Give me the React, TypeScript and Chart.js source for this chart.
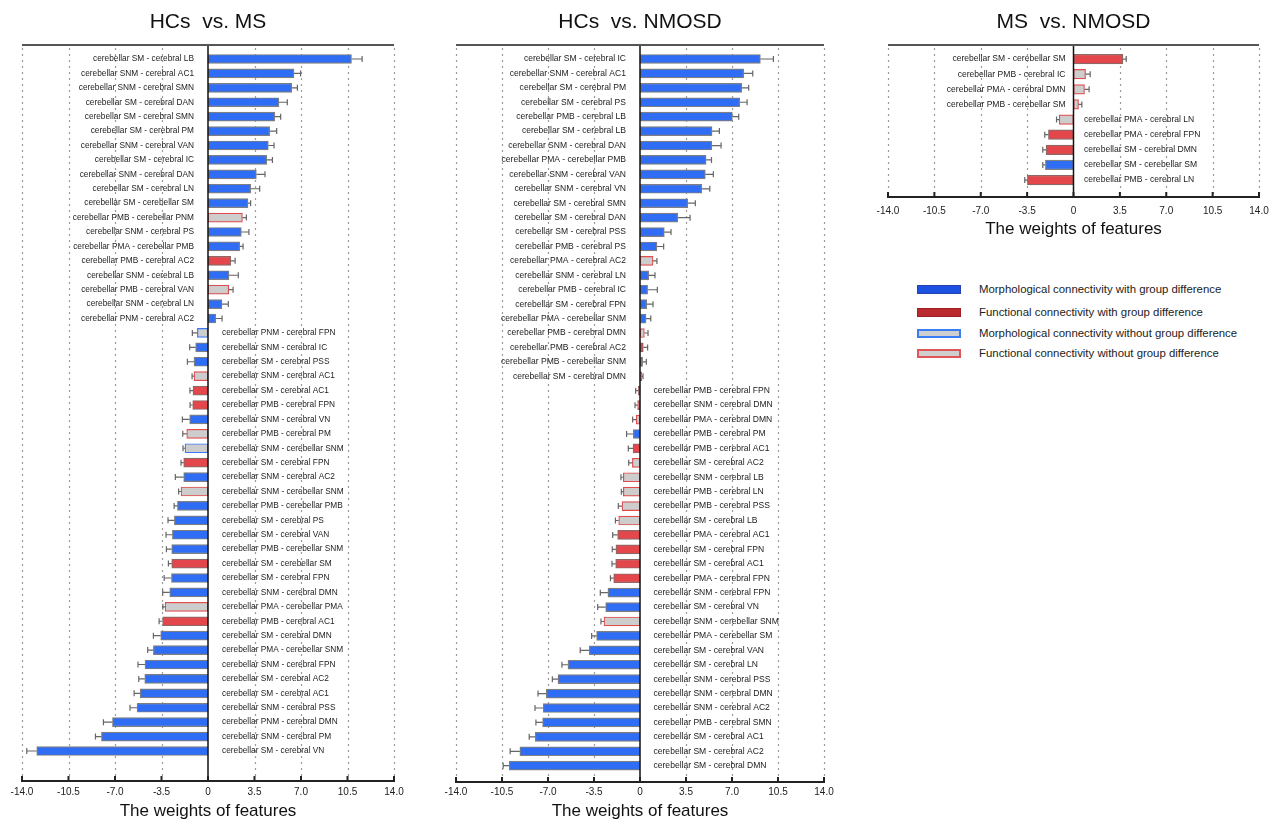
import React, { useEffect, useRef } from 'react';
import { Chart, registerables } from 'chart.js';
Chart.register(...registerables);

const FONT = '"Liberation Sans", Arial, Helvetica, sans-serif';

// ---------- Panel 1: HCs vs. MS ----------
const p1Labels = [
  'cerebellar SM - cerebral LB',
  'cerebellar SNM - cerebral AC1',
  'cerebellar SNM - cerebral SMN',
  'cerebellar SM - cerebral DAN',
  'cerebellar SM - cerebral SMN',
  'cerebellar SM - cerebral PM',
  'cerebellar SNM - cerebral VAN',
  'cerebellar SM - cerebral IC',
  'cerebellar SNM - cerebral DAN',
  'cerebellar SM - cerebral LN',
  'cerebellar SM - cerebellar SM',
  'cerebellar PMB - cerebellar PNM',
  'cerebellar SNM - cerebral PS',
  'cerebellar PMA - cerebellar PMB',
  'cerebellar PMB - cerebral AC2',
  'cerebellar SNM - cerebral LB',
  'cerebellar PMB - cerebral VAN',
  'cerebellar SNM - cerebral LN',
  'cerebellar PNM - cerebral AC2',
  'cerebellar PNM - cerebral FPN',
  'cerebellar SNM - cerebral IC',
  'cerebellar SM - cerebral PSS',
  'cerebellar SNM - cerebral AC1',
  'cerebellar SM - cerebral AC1',
  'cerebellar PMB - cerebral FPN',
  'cerebellar SNM - cerebral VN',
  'cerebellar PMB - cerebral PM',
  'cerebellar SNM - cerebellar SNM',
  'cerebellar SM - cerebral FPN',
  'cerebellar SNM - cerebral AC2',
  'cerebellar SNM - cerebellar SNM',
  'cerebellar PMB - cerebellar PMB',
  'cerebellar SM - cerebral PS',
  'cerebellar SM - cerebral VAN',
  'cerebellar PMB - cerebellar SNM',
  'cerebellar SM - cerebellar SM',
  'cerebellar SM - cerebral FPN',
  'cerebellar SNM - cerebral DMN',
  'cerebellar PMA - cerebellar PMA',
  'cerebellar PMB - cerebral AC1',
  'cerebellar SM - cerebral DMN',
  'cerebellar PMA - cerebellar SNM',
  'cerebellar SNM - cerebral FPN',
  'cerebellar SM - cerebral AC2',
  'cerebellar SM - cerebral AC1',
  'cerebellar SNM - cerebral PSS',
  'cerebellar PNM - cerebral DMN',
  'cerebellar SNM - cerebral PM',
  'cerebellar SM - cerebral VN',
];
const p1Values = [
  10.8, 6.47, 6.3, 5.34, 5.02, 4.64, 4.54, 4.42, 3.64, 3.21, 3.01, 2.59, 2.51, 2.39, 1.71, 1.58, 1.56, 1.05, 0.58,
  -0.8, -0.93, -1.05, -1.05, -1.13, -1.15, -1.38, -1.6, -1.73, -1.83, -1.83, -2.03, -2.3, -2.53, -2.68, -2.73,
  -2.73, -2.75, -2.88, -3.23, -3.41, -3.56, -4.11, -4.74, -4.76, -5.11, -5.34, -7.19, -8.02, -12.89,
];
const p1Errors = [
  0.8, 0.5, 0.43, 0.63, 0.45, 0.53, 0.43, 0.43, 0.65, 0.68, 0.2, 0.3, 0.57, 0.25, 0.33, 0.7, 0.33, 0.48, 0.48,
  0.38, 0.45, 0.5, 0.15, 0.23, 0.2, 0.55, 0.3, 0.15, 0.2, 0.63, 0.18, 0.25, 0.48, 0.48, 0.4, 0.25, 0.55, 0.53,
  0.17, 0.27, 0.55, 0.43, 0.53, 0.45, 0.45, 0.53, 0.68, 0.45, 0.75,
];
// MD: morphological with diff, FD: functional with diff, MN: morphological without, FN: functional without
const p1Types = [
  'MD', 'MD', 'MD', 'MD', 'MD', 'MD', 'MD', 'MD', 'MD', 'MD', 'MD', 'FN', 'MD', 'MD', 'FD', 'MD', 'FN', 'MD', 'MD',
  'MN', 'MD', 'MD', 'FN', 'FD', 'FD', 'MD', 'FN', 'MN', 'FD', 'MD', 'FN', 'MD', 'MD', 'MD', 'MD', 'FD', 'MD', 'MD',
  'FN', 'FD', 'MD', 'MD', 'MD', 'MD', 'MD', 'MD', 'MD', 'MD', 'MD',
];

// ---------- Panel 2: HCs vs. NMOSD ----------
const p2Labels = [
  'cerebellar SM - cerebral IC',
  'cerebellar SNM - cerebral AC1',
  'cerebellar SM - cerebral PM',
  'cerebellar SM - cerebral PS',
  'cerebellar PMB - cerebral LB',
  'cerebellar SM - cerebral LB',
  'cerebellar SNM - cerebral DAN',
  'cerebellar PMA - cerebellar PMB',
  'cerebellar SNM - cerebral VAN',
  'cerebellar SNM - cerebral VN',
  'cerebellar SM - cerebral SMN',
  'cerebellar SM - cerebral DAN',
  'cerebellar SM - cerebral PSS',
  'cerebellar PMB - cerebral PS',
  'cerebellar PMA - cerebral AC2',
  'cerebellar SNM - cerebral LN',
  'cerebellar PMB - cerebral IC',
  'cerebellar SM - cerebral FPN',
  'cerebellar PMA - cerebellar SNM',
  'cerebellar PMB - cerebral DMN',
  'cerebellar PMB - cerebral AC2',
  'cerebellar PMB - cerebellar SNM',
  'cerebellar SM - cerebral DMN',
  'cerebellar PMB - cerebral FPN',
  'cerebellar SNM - cerebral DMN',
  'cerebellar PMA - cerebral DMN',
  'cerebellar PMB - cerebral PM',
  'cerebellar PMB - cerebral AC1',
  'cerebellar SM - cerebral AC2',
  'cerebellar SNM - cerebral LB',
  'cerebellar PMB - cerebral LN',
  'cerebellar PMB - cerebral PSS',
  'cerebellar SM - cerebral LB',
  'cerebellar PMA - cerebral AC1',
  'cerebellar SM - cerebral FPN',
  'cerebellar SM - cerebral AC1',
  'cerebellar PMA - cerebral FPN',
  'cerebellar SNM - cerebral FPN',
  'cerebellar SM - cerebral VN',
  'cerebellar SNM - cerebellar SNM',
  'cerebellar PMA - cerebellar SM',
  'cerebellar SM - cerebral VAN',
  'cerebellar SM - cerebral LN',
  'cerebellar SNM - cerebral PSS',
  'cerebellar SNM - cerebral DMN',
  'cerebellar SNM - cerebral AC2',
  'cerebellar PMB - cerebral SMN',
  'cerebellar SM - cerebral AC1',
  'cerebellar SM - cerebral AC2',
  'cerebellar SM - cerebral DMN',
];
const p2Values = [
  9.16, 7.89, 7.74, 7.59, 7.03, 5.48, 5.46, 5.03, 4.97, 4.7, 3.63, 2.87, 1.85, 1.29, 0.99, 0.66, 0.58, 0.51, 0.46,
  0.33, 0.25, 0.2, 0.13,
  -0.13, -0.18, -0.28, -0.51, -0.53, -0.58, -1.27, -1.27, -1.37, -1.62, -1.7, -1.83, -1.85, -2.0, -2.44, -2.61,
  -2.74, -3.3, -3.86, -5.48, -6.24, -7.13, -7.36, -7.41, -7.97, -9.14, -9.95,
];
const p2Errors = [
  0.99, 0.69, 0.53, 0.56, 0.48, 0.56, 0.71, 0.41, 0.61, 0.61, 0.58, 0.94, 0.51, 0.51, 0.3, 0.48, 0.74, 0.48, 0.36,
  0.28, 0.33, 0.28, 0.1,
  0.2, 0.2, 0.28, 0.51, 0.36, 0.28, 0.18, 0.15, 0.28, 0.25, 0.38, 0.28, 0.28, 0.25, 0.58, 0.61, 0.23, 0.38, 0.69,
  0.46, 0.43, 0.63, 0.63, 0.51, 0.46, 0.74, 0.46,
];
const p2Types = [
  'MD', 'MD', 'MD', 'MD', 'MD', 'MD', 'MD', 'MD', 'MD', 'MD', 'MD', 'MD', 'MD', 'MD', 'FN', 'MD', 'MD', 'MD', 'MD',
  'FN', 'FD', 'MD', 'FD',
  'FD', 'FD', 'FN', 'MD', 'FD', 'FN', 'FN', 'FN', 'FN', 'FN', 'FD', 'FD', 'FD', 'FD', 'MD', 'MD', 'FN', 'MD', 'MD',
  'MD', 'MD', 'MD', 'MD', 'MD', 'MD', 'MD', 'MD',
];

// ---------- Panel 3: MS vs. NMOSD ----------
const p3Labels = [
  'cerebellar SM - cerebellar SM',
  'cerebellar PMB - cerebral IC',
  'cerebellar PMA - cerebral DMN',
  'cerebellar PMB - cerebellar SM',
  'cerebellar PMA - cerebral LN',
  'cerebellar PMA - cerebral FPN',
  'cerebellar SM - cerebral DMN',
  'cerebellar SM - cerebellar SM',
  'cerebellar PMB - cerebral LN',
];
const p3Values = [3.73, 0.91, 0.83, 0.38, -1.08, -1.89, -2.07, -2.12, -3.48];
const p3Errors = [0.25, 0.35, 0.35, 0.25, 0.2, 0.28, 0.25, 0.2, 0.2];
const p3Types = ['FD', 'FN', 'FN', 'FN', 'FN', 'FD', 'FD', 'MD', 'FD'];

const legendLabels = [
  'Morphological connectivity with group difference',
  'Functional connectivity with group difference',
  'Morphological connectivity without group difference',
  'Functional connectivity without group difference',
];
const xTickStep = 3.5;
const xMin = -14;
const xMax = 14;
const axisTitle = 'The weights of features';

const FILL: Record<string, string> = { MD: '#2f6df5', FD: '#e4474b', MN: '#cdcdcd', FN: '#cdcdcd' };
const STROKE: Record<string, string> = { MD: '#7f7f7f', FD: '#8c6868', MN: '#3a7af5', FN: '#e14d4f' };

type PanelProps = {
  title: string;
  labels: string[];
  values: number[];
  errors: number[];
  types: string[];
  left: number;
  width: number;
  height: number;
  padL: number;
  padR: number;
  axisHeight: number;
  yMin: number;
  yMax: number;
  tickPad: number;
  labelFont: number;
  gapPos: number;
  gapNeg: number;
  barThickness: number;
};

function Panel(p: PanelProps) {
  const ref = useRef<HTMLCanvasElement>(null);
  useEffect(() => {
    const canvas = ref.current!;
    const overlay = {
      id: 'overlay',
      beforeDatasetsDraw(chart: any) {
        const { ctx, chartArea } = chart;
        const xs = chart.scales.x;
        ctx.save();
        ctx.strokeStyle = '#9a9a9a';
        ctx.lineWidth = 1.2;
        ctx.setLineDash([2, 4]);
        for (let v = xMin; v <= xMax + 1e-9; v += xTickStep) {
          if (Math.abs(v) < 1e-9) continue;
          const x = Math.round(xs.getPixelForValue(v)) + 0.5;
          ctx.beginPath();
          ctx.moveTo(x, chartArea.top + 3);
          ctx.lineTo(x, chartArea.bottom);
          ctx.stroke();
        }
        ctx.restore();
      },
      afterDatasetsDraw(chart: any) {
        const { ctx, chartArea } = chart;
        const xs = chart.scales.x;
        const meta = chart.getDatasetMeta(0);
        ctx.save();
        // error bars
        ctx.strokeStyle = '#666666';
        ctx.lineWidth = 1.2;
        meta.data.forEach((el: any, i: number) => {
          const v = p.values[i];
          const e = p.errors[i];
          const sign = v >= 0 ? 1 : -1;
          const x0 = xs.getPixelForValue(v);
          const x1 = xs.getPixelForValue(v + sign * e);
          const y = el.y;
          ctx.beginPath();
          ctx.moveTo(x0, y);
          ctx.lineTo(x1, y);
          ctx.moveTo(x1, y - 3);
          ctx.lineTo(x1, y + 3);
          ctx.stroke();
        });
        // zero line
        const x0 = xs.getPixelForValue(0);
        ctx.strokeStyle = '#111111';
        ctx.lineWidth = 1.5;
        ctx.beginPath();
        ctx.moveTo(x0, chartArea.top);
        ctx.lineTo(x0, chartArea.bottom);
        ctx.stroke();
        // top border
        ctx.strokeStyle = '#555555';
        ctx.lineWidth = 2;
        ctx.beginPath();
        ctx.moveTo(chartArea.left, chartArea.top);
        ctx.lineTo(chartArea.right, chartArea.top);
        ctx.stroke();
        // bottom axis with tick marks
        ctx.strokeStyle = '#222222';
        ctx.lineWidth = 1.8;
        ctx.beginPath();
        ctx.moveTo(chartArea.left - 1, chartArea.bottom);
        ctx.lineTo(chartArea.right + 1, chartArea.bottom);
        ctx.stroke();
        ctx.lineWidth = 2;
        for (let v = xMin; v <= xMax + 1e-9; v += xTickStep) {
          const x = xs.getPixelForValue(v);
          ctx.beginPath();
          ctx.moveTo(x, chartArea.bottom - 5);
          ctx.lineTo(x, chartArea.bottom + 1);
          ctx.stroke();
        }
        // bar labels
        ctx.fillStyle = '#222222';
        ctx.font = `${p.labelFont}px ${FONT}`;
        ctx.textBaseline = 'middle';
        meta.data.forEach((el: any, i: number) => {
          const v = p.values[i];
          if (v >= 0) {
            ctx.textAlign = 'right';
            ctx.fillText(p.labels[i], x0 - p.gapPos, el.y);
          } else {
            ctx.textAlign = 'left';
            ctx.fillText(p.labels[i], x0 + p.gapNeg, el.y);
          }
        });
        ctx.restore();
      },
    };
    const chart = new Chart(canvas, {
      type: 'bar',
      data: {
        datasets: [
          {
            data: p.values.map((v, i) => ({ x: v, y: i })),
            backgroundColor: p.types.map((t) => FILL[t]),
            borderColor: p.types.map((t) => STROKE[t]),
            borderWidth: 1.2,
            borderSkipped: false,
            barThickness: p.barThickness,
          } as any,
        ],
      },
      options: {
        indexAxis: 'y',
        responsive: false,
        animation: false,
        devicePixelRatio: 1,
        layout: { padding: { left: p.padL, right: p.padR, top: 0, bottom: 0 } },
        plugins: {
          legend: { display: false },
          tooltip: { enabled: false },
          title: {
            display: true,
            text: p.title,
            color: '#111111',
            font: { size: 21, family: FONT, weight: 'normal' },
            padding: { top: 9.4, bottom: 10.4 },
          },
        },
        scales: {
          x: {
            type: 'linear',
            min: xMin,
            max: xMax,
            bounds: 'data',
            grid: { display: false, drawTicks: false },
            border: { display: false },
            ticks: {
              stepSize: xTickStep,
              autoSkip: false,
              maxRotation: 0,
              padding: p.tickPad,
              color: '#222222',
              font: { size: 10, family: FONT },
              callback: (v: any) => (Math.abs(Number(v)) < 1e-9 ? '0' : Number(v).toFixed(1)),
            },
            title: {
              display: true,
              text: axisTitle,
              color: '#111111',
              font: { size: 17, family: FONT },
              padding: { top: 0, bottom: 0 },
            },
            afterFit: (scale: any) => {
              scale.height = p.axisHeight;
              scale.paddingLeft = 0;
              scale.paddingRight = 0;
            },
          },
          y: {
            type: 'linear',
            reverse: true,
            bounds: 'data',
            offset: false,
            min: p.yMin,
            max: p.yMax,
            display: false,
          },
        },
      } as any,
      plugins: [overlay],
    });
    return () => chart.destroy();
  }, []);
  return (
    <canvas
      ref={ref}
      width={p.width}
      height={p.height}
      style={{ position: 'absolute', left: p.left, top: 0, width: p.width, height: p.height }}
    />
  );
}

const legendBox = [
  { bg: '#1c51e2', border: '#2843ad', bw: 1.5 },
  { bg: '#b9292e', border: '#9b1f23', bw: 1.5 },
  { bg: '#cfcfcf', border: '#3b7df5', bw: 2 },
  { bg: '#cfcfcf', border: '#e05658', bw: 2 },
];
const legendY = [289, 312, 333, 353];

export default function App() {
  return (
    <div style={{ position: 'absolute', left: 0, top: 0, width: 1270, height: 822, background: '#ffffff', fontFamily: FONT }}>
      <Panel
        title="HCs  vs. MS"
        labels={p1Labels}
        values={p1Values}
        errors={p1Errors}
        types={p1Types}
        left={0}
        width={420}
        height={822}
        padL={22}
        padR={26}
        axisHeight={41}
        yMin={-0.97}
        yMax={50.08}
        tickPad={5}
        labelFont={8.3}
        gapPos={14}
        gapNeg={14}
        barThickness={9}
      />
      <Panel
        title="HCs  vs. NMOSD"
        labels={p2Labels}
        values={p2Values}
        errors={p2Errors}
        types={p2Types}
        left={420}
        width={420}
        height={822}
        padL={36}
        padR={16}
        axisHeight={40}
        yMin={-0.97}
        yMax={50.13}
        tickPad={4}
        labelFont={8.55}
        gapPos={14}
        gapNeg={13.5}
        barThickness={9}
      />
      <Panel
        title="MS  vs. NMOSD"
        labels={p3Labels}
        values={p3Values}
        errors={p3Errors}
        types={p3Types}
        left={850}
        width={420}
        height={240}
        padL={38}
        padR={11}
        axisHeight={43}
        yMin={-0.93}
        yMax={9.12}
        tickPad={8}
        labelFont={8.55}
        gapPos={8}
        gapNeg={10.5}
        barThickness={9.5}
      />
      {legendLabels.map((t, i) => (
        <div key={t}>
          <div
            style={{
              position: 'absolute',
              left: 917,
              top: legendY[i] - 4.5,
              width: 44,
              height: 9,
              boxSizing: 'border-box',
              background: legendBox[i].bg,
              border: `${legendBox[i].bw}px solid ${legendBox[i].border}`,
            }}
          />
          <div
            style={{
              position: 'absolute',
              left: 979,
              top: legendY[i] - 7,
              height: 14,
              lineHeight: '14px',
              fontSize: 11.4,
              color: '#222222',
              whiteSpace: 'nowrap',
            }}
          >
            {t}
          </div>
        </div>
      ))}
    </div>
  );
}
